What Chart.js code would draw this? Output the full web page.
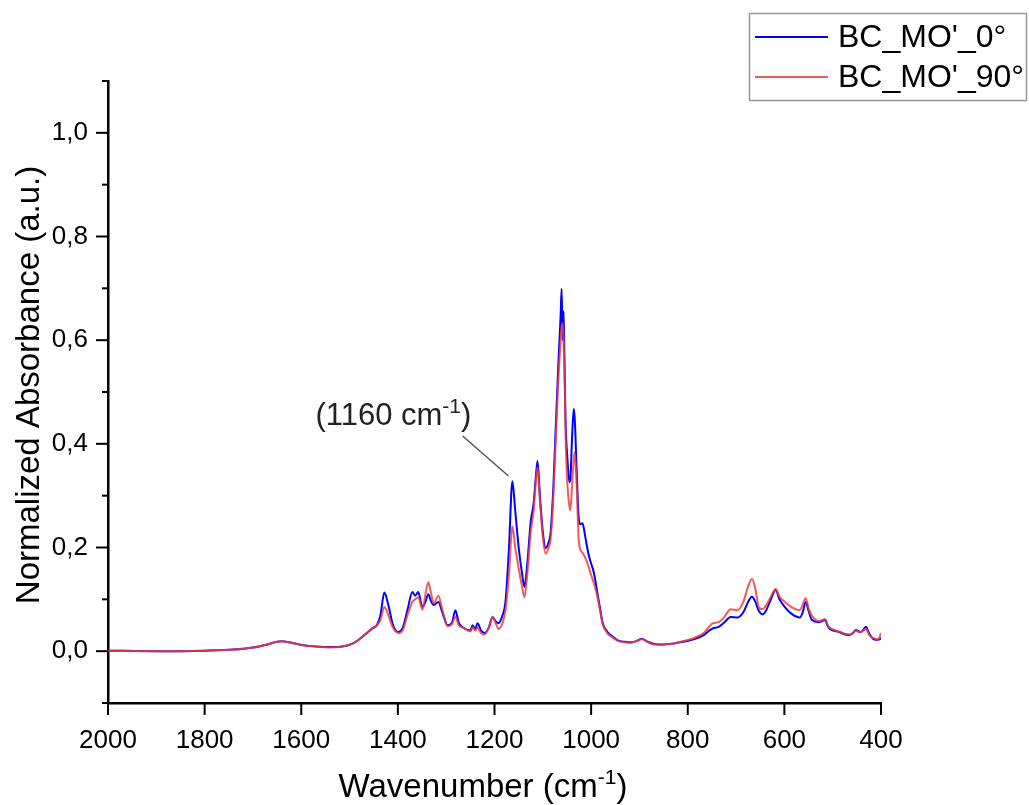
<!DOCTYPE html>
<html>
<head>
<meta charset="utf-8">
<script src="https://cdn.jsdelivr.net/npm/chart.js@4.4.1/dist/chart.umd.min.js"></script>
<style>
  body { margin: 0; background: #fff; }
  canvas { display: block; }
</style>
</head>
<body>
<canvas id="myChart" width="1029" height="805"></canvas>
<script>
// wavenumbers (cm-1) and the two normalized absorbance series
var wavenumber = [2000, 1900, 1800, 1740, 1700, 1670, 1650, 1640, 1625, 1600, 1570, 1540, 1515, 1495, 1484, 1468, 1453, 1443, 1436, 1428, 1420, 1410, 1399, 1390, 1380, 1370, 1364, 1358, 1349, 1343, 1337, 1332, 1326, 1316, 1308, 1297, 1288, 1281, 1274, 1266, 1250, 1245, 1240, 1235, 1228, 1221, 1212, 1204, 1198, 1192, 1185, 1177, 1170, 1163, 1157, 1150, 1143, 1138, 1132, 1125, 1119, 1115, 1111, 1106, 1100, 1094, 1088, 1084, 1078, 1074, 1068, 1063, 1061, 1059, 1057, 1055, 1053, 1049, 1045, 1043, 1040, 1036, 1034, 1030, 1026, 1022, 1018, 1012, 1006, 1001, 994, 987, 981, 976, 966, 955, 945, 930, 918, 905, 895, 885, 870, 850, 829, 810, 788, 767, 755, 748, 736, 725, 711, 697, 685, 675, 667, 660, 653, 645, 638, 628, 618, 610, 599, 585, 568, 562, 556, 549, 543, 529, 522, 516, 510, 506, 487, 467, 458, 452, 446, 442, 436, 431, 425, 415, 406, 400];

var absorbance0 = [0.001, 0.000, 0.001, 0.003, 0.007, 0.013, 0.018, 0.019, 0.017, 0.012, 0.009, 0.008, 0.009, 0.014, 0.020, 0.032, 0.044, 0.051, 0.070, 0.113, 0.090, 0.050, 0.037, 0.045, 0.080, 0.114, 0.107, 0.114, 0.085, 0.095, 0.110, 0.098, 0.089, 0.095, 0.075, 0.050, 0.055, 0.079, 0.055, 0.046, 0.040, 0.050, 0.042, 0.054, 0.040, 0.035, 0.045, 0.066, 0.058, 0.054, 0.065, 0.098, 0.200, 0.328, 0.270, 0.200, 0.150, 0.124, 0.170, 0.250, 0.285, 0.330, 0.367, 0.300, 0.230, 0.199, 0.210, 0.228, 0.320, 0.413, 0.550, 0.650, 0.699, 0.600, 0.656, 0.550, 0.446, 0.370, 0.326, 0.330, 0.400, 0.467, 0.450, 0.350, 0.260, 0.245, 0.247, 0.220, 0.190, 0.172, 0.150, 0.112, 0.080, 0.054, 0.037, 0.028, 0.021, 0.018, 0.017, 0.020, 0.024, 0.019, 0.014, 0.013, 0.015, 0.018, 0.023, 0.031, 0.040, 0.044, 0.047, 0.055, 0.066, 0.065, 0.075, 0.095, 0.105, 0.095, 0.078, 0.071, 0.078, 0.100, 0.118, 0.100, 0.085, 0.072, 0.065, 0.075, 0.095, 0.075, 0.060, 0.056, 0.058, 0.060, 0.048, 0.043, 0.037, 0.031, 0.035, 0.041, 0.038, 0.037, 0.042, 0.047, 0.035, 0.023, 0.022, 0.025];

var absorbance90 = [0.001, 0.000, 0.001, 0.003, 0.007, 0.013, 0.018, 0.019, 0.017, 0.012, 0.009, 0.007, 0.009, 0.014, 0.020, 0.032, 0.044, 0.050, 0.060, 0.085, 0.070, 0.045, 0.035, 0.040, 0.070, 0.095, 0.100, 0.104, 0.080, 0.110, 0.133, 0.115, 0.092, 0.107, 0.080, 0.048, 0.052, 0.066, 0.050, 0.046, 0.038, 0.046, 0.040, 0.045, 0.035, 0.032, 0.045, 0.066, 0.055, 0.043, 0.050, 0.080, 0.150, 0.241, 0.200, 0.160, 0.125, 0.104, 0.150, 0.230, 0.270, 0.320, 0.355, 0.290, 0.220, 0.188, 0.200, 0.215, 0.300, 0.390, 0.520, 0.600, 0.625, 0.633, 0.600, 0.540, 0.420, 0.320, 0.280, 0.272, 0.310, 0.370, 0.384, 0.320, 0.220, 0.195, 0.190, 0.180, 0.165, 0.150, 0.130, 0.105, 0.075, 0.052, 0.034, 0.026, 0.020, 0.017, 0.016, 0.020, 0.023, 0.019, 0.013, 0.013, 0.015, 0.019, 0.025, 0.035, 0.048, 0.054, 0.056, 0.065, 0.081, 0.079, 0.095, 0.125, 0.139, 0.120, 0.085, 0.081, 0.088, 0.105, 0.120, 0.105, 0.095, 0.085, 0.079, 0.090, 0.102, 0.080, 0.068, 0.058, 0.060, 0.062, 0.050, 0.045, 0.038, 0.032, 0.035, 0.040, 0.037, 0.037, 0.040, 0.043, 0.032, 0.025, 0.022, 0.035];

var seriesNames = ["BC_MO'_0°", "BC_MO'_90°"];
var yTicks = [0, 0.2, 0.4, 0.6, 0.8, 1.0];
var xTicks = [2000, 1800, 1600, 1400, 1200, 1000, 800, 600, 400];

var blue = 'rgb(0, 0, 255)';
var red = 'rgba(240, 60, 60, 0.85)';
var font = '"Liberation Sans", Arial, sans-serif';

function pts(ys) {
    return wavenumber.map(function (w, i) { return { x: w, y: ys[i] }; });
}

// draws "base" + superscript + tail
function supText(ctx, x, y, size, base, sup, tail, align, supScale) {
    var ss = Math.round(size * (supScale || 0.62));
    ctx.font = size + 'px ' + font;
    var w1 = ctx.measureText(base).width;
    var w3 = ctx.measureText(tail).width;
    ctx.font = ss + 'px ' + font;
    var w2 = ctx.measureText(sup).width;
    var total = w1 + w2 + w3;
    var x0 = align === 'center' ? x - total / 2 : (align === 'right' ? x - total : x);
    ctx.textAlign = 'left';
    ctx.textBaseline = 'alphabetic';
    ctx.font = size + 'px ' + font;
    ctx.fillText(base, x0, y);
    ctx.font = ss + 'px ' + font;
    ctx.fillText(sup, x0 + w1, y - size * 0.4);
    ctx.font = size + 'px ' + font;
    ctx.fillText(tail, x0 + w1 + w2, y);
}

var decor = {
    id: 'decor',
    afterDraw: function (chart) {
        var ctx = chart.ctx;
        var xs = chart.scales.x, ys = chart.scales.y;
        ctx.save();
        ctx.strokeStyle = '#000';
        ctx.lineWidth = 2;
        // tick marks (major long, minor short)
        ys.ticks.forEach(function (t) {
            var p = ys.getPixelForValue(t.value);
            var major = Math.round(t.value * 10) % 2 === 0;
            ctx.beginPath();
            ctx.moveTo(xs.left - (major ? 12 : 6), p);
            ctx.lineTo(xs.left, p);
            ctx.stroke();
        });
        xs.ticks.forEach(function (t) {
            var p = xs.getPixelForValue(t.value);
            var major = t.value % 200 === 0;
            ctx.beginPath();
            ctx.moveTo(p, ys.bottom);
            ctx.lineTo(p, ys.bottom + (major ? 12 : 6));
            ctx.stroke();
        });

        ctx.fillStyle = '#000';
        // y title
        ctx.save();
        ctx.translate(30, (ys.top + ys.bottom) / 2 - 7);
        ctx.rotate(-Math.PI / 2);
        ctx.font = '33px ' + font;
        ctx.textAlign = 'center';
        ctx.textBaseline = 'middle';
        ctx.fillText('Normalized Absorbance (a.u.)', 0, 0);
        ctx.restore();
        // x title
        supText(ctx, 483, 797, 33, 'Wavenumber (cm', '-1', ')', 'center', 0.65);

        // annotation for the 1160 band
        ctx.strokeStyle = '#555';
        ctx.lineWidth = 1.5;
        ctx.beginPath();
        ctx.moveTo(xs.getPixelForValue(1266), ys.getPixelForValue(0.415));
        ctx.lineTo(xs.getPixelForValue(1171), ys.getPixelForValue(0.338));
        ctx.stroke();
        ctx.fillStyle = '#222';
        supText(ctx, xs.getPixelForValue(1248), ys.getPixelForValue(0.436), 31, '(1160 cm', '-1', ')', 'right', 0.68);

        // legend box
        ctx.strokeStyle = '#999';
        ctx.lineWidth = 1.5;
        ctx.strokeRect(749.5, 13.5, 277, 87);
        [blue, red].forEach(function (c, i) {
            var yy = 37 + i * 40;
            ctx.strokeStyle = c;
            ctx.lineWidth = 2;
            ctx.beginPath();
            ctx.moveTo(755, yy);
            ctx.lineTo(828, yy);
            ctx.stroke();
            ctx.fillStyle = '#000';
            ctx.font = '32px ' + font;
            ctx.textAlign = 'left';
            ctx.textBaseline = 'middle';
            ctx.fillText(seriesNames[i], 838, yy + 1);
        });
        ctx.restore();
    }
};

var ctx = document.getElementById('myChart').getContext('2d');
var chart = new Chart(ctx, {
    type: 'line',
    data: {
        datasets: [{
            label: seriesNames[0],
            data: pts(absorbance0),
            borderColor: blue,
            borderWidth: 2,
            pointRadius: 0,
            cubicInterpolationMode: 'monotone',
            order: 2
        }, {
            label: seriesNames[1],
            data: pts(absorbance90),
            borderColor: red,
            borderWidth: 2,
            pointRadius: 0,
            cubicInterpolationMode: 'monotone',
            order: 1
        }]
    },
    options: {
        responsive: false,
        animation: false,
        layout: { padding: { top: 81, right: 148, left: 0, bottom: 0 } },
        plugins: { legend: { display: false }, tooltip: { enabled: false } },
        scales: {
            x: {
                type: 'linear',
                reverse: true,
                min: 400,
                max: 2000,
                afterFit: function (s) { s.height = 102; },
                grid: { display: true, drawOnChartArea: false, drawTicks: false },
                border: { display: true, color: '#000', width: 2.5 },
                ticks: {
                    stepSize: 100,
                    padding: 22,
                    color: '#000',
                    maxRotation: 0,
                    font: { family: font, size: 26 },
                    callback: function (v) { return xTicks.indexOf(v) >= 0 ? String(v) : ''; }
                }
            },
            y: {
                min: -0.1,
                max: 1.1,
                afterFit: function (s) { s.width = 108; },
                grid: { display: true, drawOnChartArea: false, drawTicks: false },
                border: { display: true, color: '#000', width: 2.5 },
                ticks: {
                    stepSize: 0.1,
                    padding: 20,
                    color: '#000',
                    font: { family: font, size: 26 },
                    callback: function (v) {
                        var r = Math.round(v * 10) / 10;
                        return yTicks.indexOf(r) >= 0 ? r.toFixed(1).replace('.', ',') : '';
                    }
                }
            }
        }
    },
    plugins: [decor]
});
</script>
</body>
</html>
